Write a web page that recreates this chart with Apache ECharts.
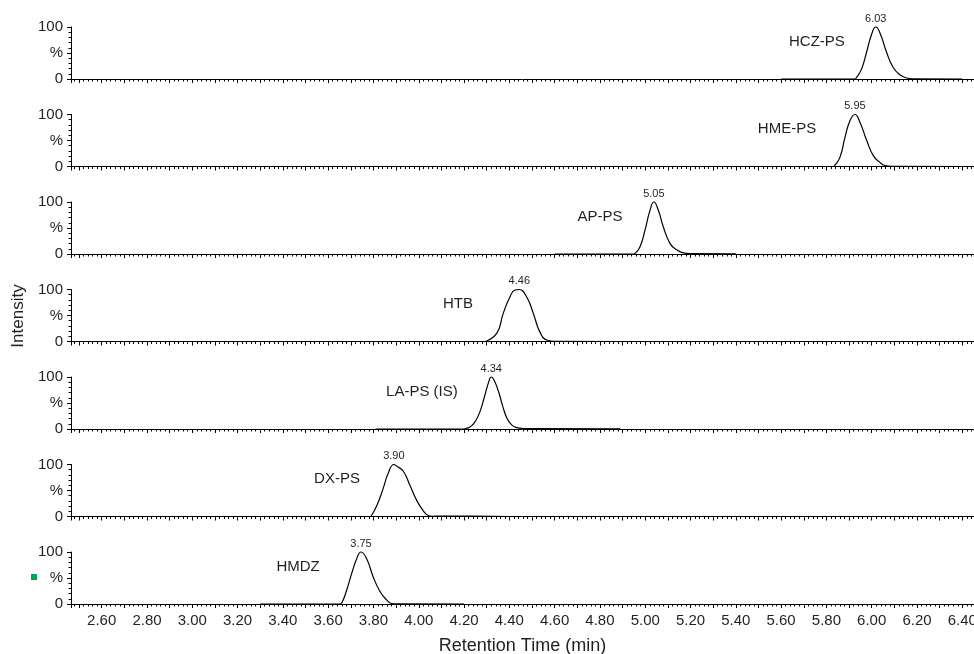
<!DOCTYPE html>
<html><head><meta charset="utf-8">
<script src="https://cdn.jsdelivr.net/npm/echarts@6/dist/echarts.min.js"></script>
<style>html,body{margin:0;padding:0;background:#fff}#c{width:974px;height:654px}</style>
</head><body><div id="c"></div>
<script>
// ---- data ----
const compounds = ['HCZ-PS', 'HME-PS', 'AP-PS', 'HTB', 'LA-PS (IS)', 'DX-PS', 'HMDZ'];
const peakLabels = ['6.03', '5.95', '5.05', '4.46', '4.34', '3.90', '3.75'];
const nameTimes = [5.758, 5.626, 4.800, 4.173, 4.014, 3.639, 3.467];
const nameLevel = 72;

const hczTrace = [[5.60,0],[5.925,0],[5.93,1],[5.955,19],[5.977,51],[5.999,85],[6.018,100],[6.036,89],[6.066,51],[6.095,22],[6.125,8],[6.154,2],[6.18,0.5],[6.40,0]];
const hmeTrace = [[5.55,0],[5.83,0],[5.835,1],[5.86,18],[5.882,56],[5.904,88],[5.926,100],[5.948,85],[5.978,50],[6.007,21],[6.036,8],[6.058,2],[6.09,0.5],[6.40,0]];
const apTrace  = [[4.60,0],[4.95,0],[4.955,1],[4.977,14],[4.999,46],[5.021,84],[5.038,100],[5.058,84],[5.08,52],[5.11,20],[5.139,8],[5.168,2],[5.20,0.6],[5.40,0.4]];
const htbTrace = [[3.90,0],[4.29,0],[4.30,1],[4.345,16],[4.373,54],[4.403,86],[4.425,99],[4.444,100],[4.476,86],[4.506,54],[4.535,18],[4.565,3],[4.60,0.5],[4.90,0]];
const laTrace  = [[3.81,0],[4.20,0],[4.21,1],[4.23,5],[4.25,15],[4.27,33],[4.29,62],[4.31,92],[4.32,100],[4.33,96],[4.35,75],[4.37,45],[4.39,20],[4.41,8],[4.43,3],[4.46,1],[4.50,0.8],[4.89,0.3]];
const dxTrace  = [[3.50,0],[3.785,0],[3.79,1],[3.814,20],[3.843,54],[3.865,83],[3.89,100],[3.905,96],[3.932,87],[3.961,60],[3.991,31],[4.02,11],[4.042,2],[4.06,0.5],[4.10,0.8],[4.33,0.5],[4.40,0]];
const hmdzTrace= [[3.30,0],[3.65,0],[3.66,2],[3.682,27],[3.704,59],[3.726,87],[3.745,100],[3.770,87],[3.799,52],[3.829,24],[3.858,8],[3.88,1],[3.90,0.3],[4.20,0]];
const traces = [hczTrace, hmeTrace, apTrace, htbTrace, laTrace, dxTrace, hmdzTrace];

const yTickLabels = {0: '0', 50: '%', 100: '100'};
const xTitle = 'Retention Time (min)';
const yTitle = 'Intensity';

// ---- layout / style ----
const FONT = 'Liberation Sans, Arial, sans-serif';
const TXT = '#231f20';
const X_MIN = 2.4645, X_MAX = 6.4517;
const n = compounds.length;
const grids = [], xAxes = [], yAxes = [], series = [];
for (let i = 0; i < n; i++) {
  const last = i === n - 1;
  grids.push({left: 71, right: 0, top: 27 + 87.5 * i, height: 52, containLabel: false, outerBoundsMode: 'none'});
  xAxes.push({
    type: 'value', gridIndex: i, min: X_MIN, max: X_MAX,
    minInterval: 0.1, maxInterval: 0.1, splitNumber: 40,
    axisLine: {show: true, onZero: false, lineStyle: {color: '#000', width: 1}},
    axisTick: {show: true, inside: false, length: 4, lineStyle: {color: '#000', width: 1}},
    minorTick: {show: true, splitNumber: 5, length: 2.5, lineStyle: {color: '#000', width: 1}},
    splitLine: {show: false}, minorSplitLine: {show: false},
    axisLabel: {
      show: last, margin: 9, fontSize: 15, fontFamily: FONT, color: TXT,
      showMinLabel: false, showMaxLabel: true, hideOverlap: false,
      formatter: v => (Math.round(v * 10) % 2 === 0 ? v.toFixed(2) : '')
    },
    name: last ? xTitle : '', nameLocation: 'middle', nameGap: 33,
    nameTextStyle: {fontSize: 18, fontFamily: FONT, color: TXT}
  });
  yAxes.push({
    type: 'value', gridIndex: i, min: 0, max: 100, interval: 50,
    axisLine: {show: true, lineStyle: {color: '#000', width: 1}},
    axisTick: {show: true, inside: false, length: 4, lineStyle: {color: '#000', width: 1}},
    minorTick: {show: true, splitNumber: 5, length: 2.5, lineStyle: {color: '#000', width: 1}},
    splitLine: {show: false},
    axisLabel: {margin: 8, fontSize: 15, fontFamily: FONT, color: TXT,
      formatter: v => yTickLabels[v] !== undefined ? yTickLabels[v] : ''}
  });
  const tr = traces[i];
  let apex = tr[0];
  tr.forEach(p => { if (p[1] > apex[1]) apex = p; });
  series.push({
    type: 'line', xAxisIndex: i, yAxisIndex: i, data: tr,
    showSymbol: false, symbol: 'none', smooth: 0.5,
    clip: false, silent: true,
    lineStyle: {color: '#000', width: 1.2},
    markPoint: {
      symbol: 'circle', symbolSize: 0, silent: true, animation: false,
      data: [
        {coord: [apex[0], apex[1]], label: {show: true, position: 'top', distance: 3,
          formatter: peakLabels[i], fontSize: 11, fontFamily: FONT, color: TXT}},
        {coord: [nameTimes[i], nameLevel], label: {show: true, position: 'inside',
          formatter: compounds[i], fontSize: 15, fontFamily: FONT, color: TXT}}
      ]
    }
  });
}

const chart = echarts.init(document.getElementById('c'), null, {renderer: 'canvas'});
chart.setOption({
  animation: false,
  backgroundColor: '#fff',
  grid: grids, xAxis: xAxes, yAxis: yAxes, series: series,
  graphic: [
    {type: 'text', x: 18, y: 316, rotation: Math.PI / 2,
      style: {text: yTitle, fontSize: 17, fontFamily: FONT, fill: TXT, textAlign: 'center', textVerticalAlign: 'middle'}},
    {type: 'rect', left: 31, top: 574, shape: {width: 6, height: 6}, style: {fill: '#00a651'}}
  ]
});
</script>
</body></html>
